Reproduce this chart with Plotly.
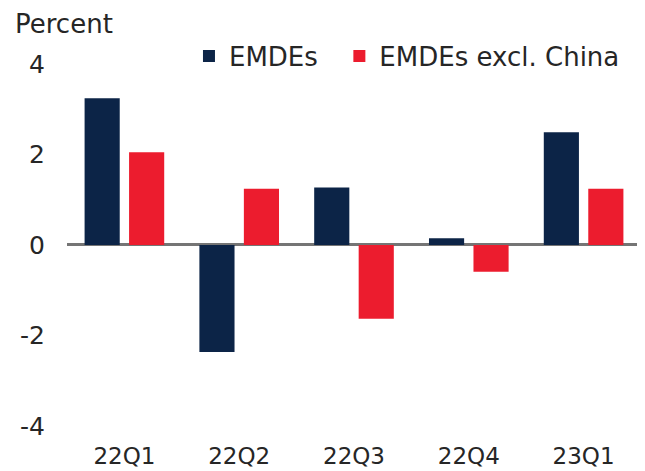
import plotly.graph_objects as go

categories = ["22Q1", "22Q2", "22Q3", "22Q4", "23Q1"]
emdes = [3.24, -2.36, 1.27, 0.15, 2.49]
emdes_ex_china = [2.05, 1.24, -1.63, -0.59, 1.24]
y_ticks = [-4, -2, 0, 2, 4]
series_names = ["EMDEs", "EMDEs excl. China"]

NAVY = "#0c2447"
RED = "#ec1c2e"
FONT = "DejaVu Sans, Liberation Sans, Arial, sans-serif"
TXT = "#262626"
PAD = "\u00a0\u00a0"  # spacing between legend entries

fig = go.Figure()
fig.add_trace(go.Bar(x=categories, y=emdes, name=series_names[0] + PAD,
                     marker_color=NAVY, marker_line_width=0))
fig.add_trace(go.Bar(x=categories, y=emdes_ex_china, name=series_names[1],
                     marker_color=RED, marker_line_width=0))

# page body has an 8px default margin, so the figure is 8px smaller than the window
fig.update_layout(
    width=637, height=463,
    margin=dict(l=59, r=4, t=22, b=28),
    paper_bgcolor="white", plot_bgcolor="white",
    font=dict(family=FONT, size=25, color=TXT),
    barmode="group", bargap=0.225, bargroupgap=0.21,
    showlegend=True,
    legend=dict(orientation="h", x=0.2125, y=0.937, xanchor="left", yanchor="middle",
                font=dict(size=26, color=TXT), bgcolor="rgba(0,0,0,0)",
                traceorder="normal"),
    annotations=[dict(text="Percent", xref="paper", yref="paper", x=-0.094, y=1.0145,
                      xanchor="left", yanchor="middle", showarrow=False,
                      font=dict(size=26, color=TXT))],
)
fig.update_yaxes(range=[-4.371, 4.746], tickvals=y_ticks, ticktext=[str(v) for v in y_ticks],
                 showgrid=False, zeroline=True, zerolinecolor="#757575", zerolinewidth=2.5,
                 showline=False, ticks="", ticklabelstandoff=21, tickfont=dict(size=25),
                 automargin=False)
fig.update_xaxes(showgrid=False, showline=False, ticks="", zeroline=False,
                 tickfont=dict(size=23), ticklabelstandoff=-3, automargin=False)

fig.write_html("out.html")
